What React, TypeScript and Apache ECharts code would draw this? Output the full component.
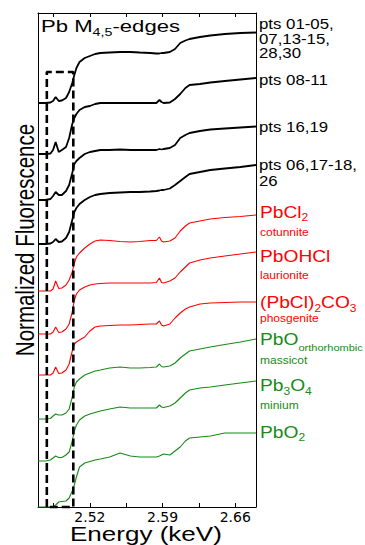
import React, { useEffect, useRef } from "react";
import * as echarts from "echarts";

// Energy grid (keV) shared by all spectra
const energy = [2.470, 2.477, 2.482, 2.4845, 2.487, 2.490, 2.493, 2.497, 2.500, 2.503, 2.505, 2.507, 2.510, 2.515, 2.520, 2.525, 2.530, 2.539, 2.549, 2.559, 2.568, 2.578, 2.584, 2.587, 2.589, 2.591, 2.597, 2.602, 2.607, 2.612, 2.616, 2.626, 2.636, 2.650, 2.665, 2.680];

// Normalized fluorescence of each spectrum (relative to its own pre-edge baseline)
const pts0105 = [0, 0, 0.01, 0.04, 0.12, 0.04, 0.05, 0.10, 0.22, 0.40, 0.56, 0.70, 0.82, 0.90, 0.94, 0.98, 1.00, 1.01, 1.02, 1.02, 1.01, 1.00, 0.99, 0.99, 1.00, 1.00, 1.02, 1.08, 1.20, 1.25, 1.28, 1.32, 1.35, 1.38, 1.40, 1.41];
const pts0811 = [0, 0, 0.01, 0.08, 0.24, 0.04, 0.08, 0.14, 0.32, 0.60, 0.72, 0.80, 0.88, 0.94, 0.96, 1.00, 1.02, 1.02, 1.02, 1.02, 1.02, 1.02, 1.02, 1.08, 1.04, 1.02, 1.03, 1.10, 1.20, 1.32, 1.38, 1.40, 1.43, 1.46, 1.49, 1.52];
const pts1619 = [0, 0, 0.02, 0.08, 0.16, 0.10, 0.10, 0.18, 0.30, 0.54, 0.72, 0.78, 0.84, 0.92, 0.96, 0.98, 1.00, 1.00, 1.01, 1.00, 1.00, 1.00, 1.00, 1.02, 1.01, 1.02, 1.04, 1.10, 1.24, 1.30, 1.34, 1.38, 1.41, 1.43, 1.45, 1.47];
const pts0626 = [0, 0, 0.01, 0.04, 0.10, 0.04, 0.05, 0.12, 0.24, 0.48, 0.64, 0.72, 0.80, 0.88, 0.94, 0.98, 1.00, 1.02, 1.03, 1.04, 1.04, 1.05, 1.06, 1.07, 1.08, 1.08, 1.11, 1.18, 1.26, 1.34, 1.40, 1.44, 1.48, 1.51, 1.54, 1.58];
const cotunnite = [0, 0, 0, 0.04, 0.20, 0.05, 0.06, 0.12, 0.22, 0.38, 0.56, 0.68, 0.76, 0.86, 0.94, 1.00, 1.02, 1.01, 0.99, 0.98, 0.99, 1.01, 1.01, 1.08, 1.00, 0.98, 1.00, 1.06, 1.20, 1.30, 1.36, 1.40, 1.44, 1.47, 1.49, 1.52];
const laurionite = [0, 0, 0, 0.04, 0.14, 0.03, 0.04, 0.10, 0.20, 0.44, 0.68, 0.80, 0.88, 0.94, 0.98, 1.00, 1.01, 1.02, 1.02, 1.02, 1.02, 1.02, 1.03, 1.12, 1.03, 1.02, 1.06, 1.12, 1.24, 1.34, 1.42, 1.48, 1.52, 1.56, 1.60, 1.64];
const phosgenite = [0, 0, 0, 0.04, 0.16, 0.03, 0.04, 0.10, 0.22, 0.48, 0.62, 0.66, 0.70, 0.76, 0.88, 0.96, 0.98, 0.99, 1.00, 1.00, 1.01, 1.02, 1.02, 1.08, 1.00, 0.98, 1.02, 1.14, 1.24, 1.32, 1.36, 1.42, 1.44, 1.45, 1.46, 1.46];
const massicot = [0, 0, 0.01, 0.06, 0.10, 0.08, 0.08, 0.12, 0.20, 0.44, 0.64, 0.74, 0.80, 0.88, 0.92, 0.96, 0.98, 1.02, 1.04, 1.02, 1.02, 1.03, 1.04, 1.10, 1.05, 1.04, 1.06, 1.12, 1.22, 1.30, 1.36, 1.40, 1.44, 1.49, 1.54, 1.60];
const minium = [0, 0, 0.02, 0.06, 0.10, 0.07, 0.07, 0.12, 0.18, 0.40, 0.60, 0.72, 0.82, 0.90, 0.94, 0.97, 1.00, 1.04, 1.08, 1.06, 1.06, 1.06, 1.06, 1.12, 1.08, 1.07, 1.10, 1.16, 1.26, 1.36, 1.42, 1.46, 1.48, 1.52, 1.56, 1.60];
const pbo2 = [0, 0, 0, 0.01, 0.04, 0.10, 0.11, 0.12, 0.18, 0.32, 0.44, 0.60, 0.80, 0.88, 0.91, 0.94, 0.96, 1.00, 1.08, 1.02, 1.00, 1.00, 1.00, 1.02, 1.04, 1.06, 1.04, 1.12, 1.20, 1.32, 1.38, 1.40, 1.42, 1.48, 1.48, 1.48];

// Vertical stacking offsets (same order as spectra)
const spectra = [pts0105, pts0811, pts1619, pts0626, cotunnite, laurionite, phosgenite, massicot, minium, pbo2];
const offsets = [8.08, 7.06, 6.14, 5.26, 4.32, 3.46, 2.64, 1.76, 0.92, 0];
const spectrumNames = ["pts 01-05,07,13-15,28,30", "pts 08-11", "pts 16,19", "pts 06,17-18,26", "PbCl2 cotunnite", "PbOHCl laurionite", "(PbCl)2CO3 phosgenite", "PbO orthorhombic massicot", "Pb3O4 minium", "PbO2"];
const BLACK = "#000000";
const RED = "#ff0000";
const GREEN = "#178a17";
const spectrumColors = [BLACK, BLACK, BLACK, BLACK, RED, RED, RED, GREEN, GREEN, GREEN];

// Axis settings
const xMin = 2.47;
const xMax = 2.68;
const yMax = 9.88;
const xTickLabels = [2.52, 2.59, 2.66];
const xTicks = [2.485, 2.52, 2.555, 2.59, 2.625, 2.66];

// Dashed pre-edge box
const boxEnergy = [2.4785, 2.504];
const boxTop = 8.7;

const FONT = "'Liberation Sans', Arial, Helvetica, sans-serif";
const SX = 1.2;

function plain(x: number, y: number, text: string, size: number, color: string, extra: any = {}) {
  return {
    type: "text",
    x,
    y,
    scaleX: SX,
    silent: true,
    z: 10,
    ...extra,
    style: {
      text,
      fontSize: size,
      fontFamily: FONT,
      fill: color,
      align: "left",
      verticalAlign: "middle",
      textAlign: "left",
      textVerticalAlign: "middle",
      ...(extra.style || {}),
    },
  };
}

function richLabel(x: number, y: number, text: string, color: string, mainSize: number, subSize: number, subPad: number, sx = SX) {
  return {
    type: "text",
    x,
    y,
    scaleX: sx,
    silent: true,
    z: 10,
    style: {
      text,
      fontSize: mainSize,
      fontFamily: FONT,
      fill: color,
      align: "left",
      verticalAlign: "middle",
      textAlign: "left",
      textVerticalAlign: "middle",
      rich: {
        m: { fontSize: mainSize, fontFamily: FONT, fill: color, color },
        s: { fontSize: subSize, fontFamily: FONT, fill: color, color, padding: [subPad, 0, 0, 0] },
      },
    },
  };
}

export default function App() {
  const ref = useRef<HTMLDivElement>(null);
  useEffect(() => {
    if (!ref.current) return;
    const chart = echarts.init(ref.current, null, { renderer: "svg" });

    const lineSeries: any[] = spectra.map((vals, k) => ({
      type: "line",
      name: spectrumNames[k],
      xAxisIndex: 0,
      yAxisIndex: 0,
      symbol: "none",
      showSymbol: false,
      silent: true,
      clip: false,
      lineStyle: { color: spectrumColors[k], width: k < 4 ? 1.8 : 1.1 },
      data: energy.map((e, i) => [e, vals[i] + offsets[k]]),
      z: 2,
    }));

    lineSeries.push({
      type: "line",
      name: "box",
      xAxisIndex: 0,
      yAxisIndex: 0,
      symbol: "none",
      showSymbol: false,
      silent: true,
      clip: false,
      lineStyle: { color: "#000", width: 2.6, type: [8, 4] },
      data: [
        [boxEnergy[0], 0],
        [boxEnergy[0], boxTop],
        [boxEnergy[1], boxTop],
        [boxEnergy[1], 0],
        [boxEnergy[0], 0],
      ],
      z: 5,
    });

    const axisBase = {
      type: "value",
      min: xMin,
      max: xMax,
      splitLine: { show: false },
      axisLine: { show: true, onZero: false, lineStyle: { color: "#000", width: 1 } },
    };

    const option: any = {
      animation: false,
      backgroundColor: "#ffffff",
      grid: { left: 38, top: 13, right: 109, bottom: 38, containLabel: false },
      xAxis: [
        {
          ...axisBase,
          position: "bottom",
          axisTick: { show: true, inside: true, length: 4, customValues: xTicks, lineStyle: { color: "#000" } },
          axisLabel: {
            show: true,
            customValues: xTickLabels,
            formatter: (v: number) => v.toFixed(2),
            fontFamily: "'DejaVu Sans', sans-serif",
            fontSize: 14,
            color: "#000",
            margin: 3,
          },
        },
        {
          ...axisBase,
          position: "top",
          axisTick: { show: true, inside: true, length: 4, customValues: xTicks, lineStyle: { color: "#000" } },
          axisLabel: { show: false },
        },
      ],
      yAxis: [
        {
          type: "value",
          min: 0,
          max: yMax,
          position: "left",
          splitLine: { show: false },
          axisTick: { show: false },
          axisLabel: { show: false },
          axisLine: { show: true, onZero: false, lineStyle: { color: "#000", width: 1 } },
        },
        {
          type: "value",
          min: 0,
          max: yMax,
          position: "right",
          splitLine: { show: false },
          axisTick: { show: false },
          axisLabel: { show: false },
          axisLine: { show: true, onZero: false, lineStyle: { color: "#000", width: 1 } },
        },
      ],
      series: lineSeries,
      graphic: {
        elements: [
          // title
          richLabel(41, 26, "{m|Pb M}{s|4,5}{m|-edges}", "#000", 17, 11, 12, 1.3),
          // axis names
          plain(70, 534, "Energy (keV)", 21, "#000", { scaleX: 1.24 }),
          {
            type: "text",
            x: 25,
            y: 240,
            rotation: Math.PI / 2,
            scaleX: 1,
            scaleY: 1.25,
            silent: true,
            style: {
              text: "Normalized Fluorescence",
              fontSize: 20.5,
              fontFamily: FONT,
              fill: "#000",
              align: "center",
              verticalAlign: "middle",
              textAlign: "center",
              textVerticalAlign: "middle",
            },
          },
          // black sample labels
          plain(259, 39, "pts 01-05,\n07,13-15,\n28,30", 14, BLACK, { style: { lineHeight: 14.5 } }),
          plain(259, 80, "pts 08-11", 14, BLACK),
          plain(259, 127, "pts 16,19", 14, BLACK),
          plain(259, 173, "pts 06,17-18,\n26", 14, BLACK, { style: { lineHeight: 16 } }),
          // red references
          richLabel(260, 212.5, "{m|PbCl}{s|2}", RED, 16, 10, 10),
          plain(260, 232, "cotunnite", 10, RED),
          richLabel(260, 257, "{m|PbOHCl}", RED, 16, 10, 10),
          plain(260, 275, "laurionite", 10, RED),
          richLabel(260, 303, "{m|(PbCl)}{s|2}{m|CO}{s|3}", RED, 16, 10, 10),
          plain(260, 318, "phosgenite", 10, RED),
          // green references
          richLabel(260, 339.5, "{m|PbO}{s|orthorhombic}", GREEN, 16, 9.2, 16),
          plain(260, 360, "massicot", 10, GREEN),
          richLabel(260, 386, "{m|Pb}{s|3}{m|O}{s|4}", GREEN, 16, 10, 10),
          plain(260, 405, "minium", 10, GREEN),
          richLabel(260, 432.5, "{m|PbO}{s|2}", GREEN, 16, 10, 10),
        ],
      },
    };

    chart.setOption(option);
    return () => chart.dispose();
  }, []);

  return <div ref={ref} style={{ position: "fixed", left: 0, top: 0, width: 365, height: 545 }} />;
}
